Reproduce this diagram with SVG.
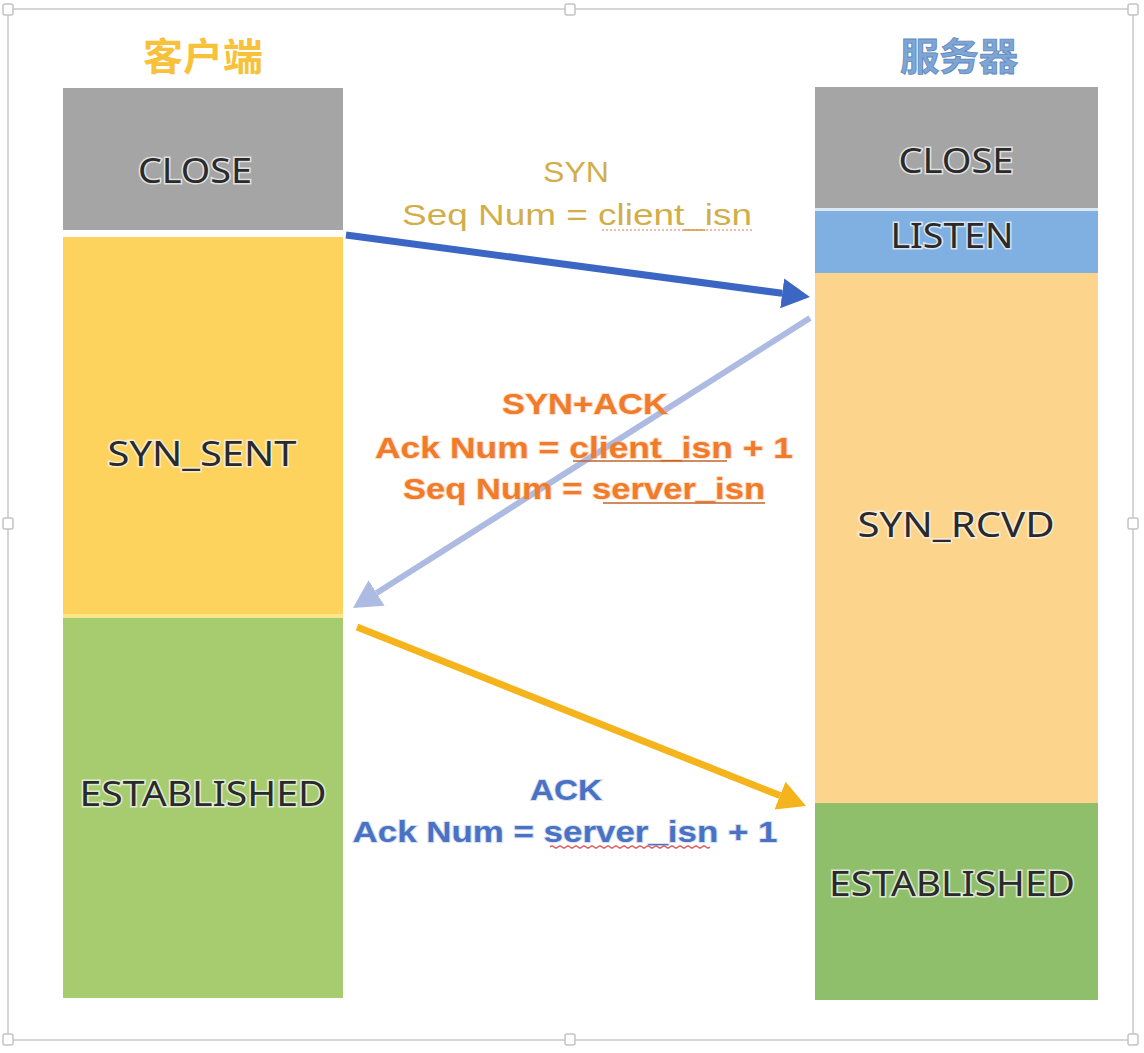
<svg xmlns="http://www.w3.org/2000/svg" width="1144" height="1053" viewBox="0 0 1144 1053">
  <style>
    .state { font-family: "Noto Sans", "Open Sans", sans-serif; font-size: 35px; fill: #2a2a2a; stroke: #f4f4f4; stroke-width: 3px; stroke-opacity: 0.75; paint-order: stroke; text-anchor: middle; }
    .title { font-family: "Noto Sans CJK SC", "Noto Sans", sans-serif; font-weight: 700; font-size: 38px; text-anchor: middle; }
    .msg { font-family: "Liberation Sans", Arial, sans-serif; font-size: 30px; text-anchor: middle; }
    .bold { font-weight: 700; paint-order: stroke; stroke-width: 2px; stroke-opacity: 0.35; }
    .frame { fill: none; stroke: #d6d6d6; stroke-width: 2; }
    .handle { fill: #ffffff; stroke: #c4c4c4; stroke-width: 1.5; }
  </style>
  <defs>
    <marker id="head-blue" markerUnits="userSpaceOnUse" markerWidth="30" markerHeight="30" refX="0" refY="15" orient="auto">
      <path d="M0,0 L28,15 L0,30 Z" fill="#3b66c4"/>
    </marker>
    <marker id="head-lavender" markerUnits="userSpaceOnUse" markerWidth="30" markerHeight="30" refX="0" refY="15" orient="auto">
      <path d="M0,0 L28,15 L0,30 Z" fill="#adbbe3"/>
    </marker>
    <marker id="head-gold" markerUnits="userSpaceOnUse" markerWidth="30" markerHeight="30" refX="0" refY="15" orient="auto">
      <path d="M0,0 L28,15 L0,30 Z" fill="#f5b31c"/>
    </marker>
  </defs>

  <rect width="1144" height="1053" fill="#ffffff"/>

  <!-- selection frame with handles -->
  <g id="frame">
    <rect class="frame" x="8" y="9" width="1125" height="1031"/>
    <rect class="handle" x="3" y="4" width="10" height="11" rx="2"/>
    <rect class="handle" x="565" y="4" width="10" height="11" rx="2"/>
    <rect class="handle" x="1128" y="4" width="10" height="11" rx="2"/>
    <rect class="handle" x="3" y="518" width="10" height="11" rx="2"/>
    <rect class="handle" x="1128" y="518" width="10" height="11" rx="2"/>
    <rect class="handle" x="3" y="1034" width="10" height="11" rx="2"/>
    <rect class="handle" x="565" y="1034" width="10" height="11" rx="2"/>
    <rect class="handle" x="1128" y="1034" width="10" height="11" rx="2"/>
  </g>

  <!-- column headings -->
  <g id="title-client">
    <text class="title" x="203" y="70" fill="#f8c13a" textLength="120" lengthAdjust="spacingAndGlyphs">客户端</text>
  </g>
  <g id="title-server">
    <text class="title" x="959" y="70" fill="#7da6d6" stroke="#5f86b8" stroke-width="0.8" textLength="118" lengthAdjust="spacingAndGlyphs">服务器</text>
  </g>

  <!-- client states -->
  <g id="client-close">
    <rect x="63" y="88" width="280" height="142" fill="#a5a5a5"/>
    <text class="state" x="195" y="183" textLength="114" lengthAdjust="spacingAndGlyphs">CLOSE</text>
  </g>
  <g id="client-syn-sent">
    <rect x="63" y="237" width="280" height="377" fill="#fdd35e"/>
    <text class="state" x="202" y="466" textLength="189" lengthAdjust="spacingAndGlyphs">SYN_SENT</text>
  </g>
  <rect x="63" y="614" width="280" height="4" fill="#fbe68c"/>
  <g id="client-established">
    <rect x="63" y="618" width="280" height="380" fill="#a7cc6f"/>
    <text class="state" x="203" y="806" textLength="247" lengthAdjust="spacingAndGlyphs">ESTABLISHED</text>
  </g>

  <!-- server states -->
  <g id="server-close">
    <rect x="815" y="87" width="283" height="121" fill="#a5a5a5"/>
    <text class="state" x="956" y="173" textLength="115" lengthAdjust="spacingAndGlyphs">CLOSE</text>
  </g>
  <rect x="815" y="208" width="283" height="3" fill="#dbe7f2"/>
  <g id="server-listen">
    <rect x="815" y="211" width="283" height="62" fill="#80b0e2"/>
    <text class="state" x="952" y="248" textLength="123" lengthAdjust="spacingAndGlyphs">LISTEN</text>
  </g>
  <g id="server-syn-rcvd">
    <rect x="815" y="273" width="283" height="530" fill="#fdd48b"/>
    <text class="state" x="956" y="537" textLength="197" lengthAdjust="spacingAndGlyphs">SYN_RCVD</text>
  </g>
  <g id="server-established">
    <rect x="815" y="803" width="283" height="197" fill="#8fbf6b"/>
    <text class="state" x="952" y="896" textLength="246" lengthAdjust="spacingAndGlyphs">ESTABLISHED</text>
  </g>

  <!-- handshake messages -->
  <g id="connectors">
    <line x1="346" y1="235" x2="782.2" y2="293.3" stroke="#3b66c4" stroke-width="7" marker-end="url(#head-blue)"/>
    <line x1="810" y1="318" x2="376.6" y2="593" stroke="#adbbe3" stroke-width="6" marker-end="url(#head-lavender)"/>
    <line x1="357" y1="627" x2="780" y2="795.6" stroke="#f5b31c" stroke-width="7" marker-end="url(#head-gold)"/>
  </g>

  <g id="label-syn">
    <text class="msg" x="576" y="182" fill="#d2ae4a" textLength="66" lengthAdjust="spacingAndGlyphs">SYN</text>
    <text class="msg" x="577" y="225" fill="#d2ae4a" textLength="350" lengthAdjust="spacingAndGlyphs">Seq Num = client_isn</text>
    <line x1="602" y1="230" x2="752" y2="230" stroke="#e8a890" stroke-width="1.5" stroke-dasharray="2 2"/>
  </g>

  <g id="label-syn-ack">
    <text class="msg bold" x="585" y="414" fill="#f07b2a" stroke="#f7a56a" textLength="166" lengthAdjust="spacingAndGlyphs">SYN+ACK</text>
    <text class="msg bold" x="584" y="458" fill="#f07b2a" stroke="#f7a56a" textLength="418" lengthAdjust="spacingAndGlyphs">Ack Num = client_isn + 1</text>
    <line x1="573" y1="461" x2="727" y2="461" stroke="#c0652a" stroke-width="1.5"/>
    <text class="msg bold" x="584" y="499" fill="#f07b2a" stroke="#f7a56a" textLength="362" lengthAdjust="spacingAndGlyphs">Seq Num = server_isn</text>
    <line x1="603" y1="503" x2="765" y2="503" stroke="#c0652a" stroke-width="1.5"/>
  </g>

  <g id="label-ack">
    <text class="msg bold" x="566" y="800" fill="#4a72c4" stroke="#8aa6dc" textLength="72" lengthAdjust="spacingAndGlyphs">ACK</text>
    <text class="msg bold" x="565" y="842" fill="#4a72c4" stroke="#8aa6dc" textLength="425" lengthAdjust="spacingAndGlyphs">Ack Num = server_isn + 1</text>
    <path d="M550,847 q2,-2 4,0 t4,0 t4,0 t4,0 t4,0 t4,0 t4,0 t4,0 t4,0 t4,0 t4,0 t4,0 t4,0 t4,0 t4,0 t4,0 t4,0 t4,0 t4,0 t4,0 t4,0 t4,0 t4,0 t4,0 t4,0 t4,0 t4,0 t4,0 t4,0 t4,0 t4,0 t4,0 t4,0 t4,0 t4,0 t4,0 t4,0 t4,0 t4,0 t4,0" fill="none" stroke="#e05a5a" stroke-width="1.2"/>
  </g>
</svg>
